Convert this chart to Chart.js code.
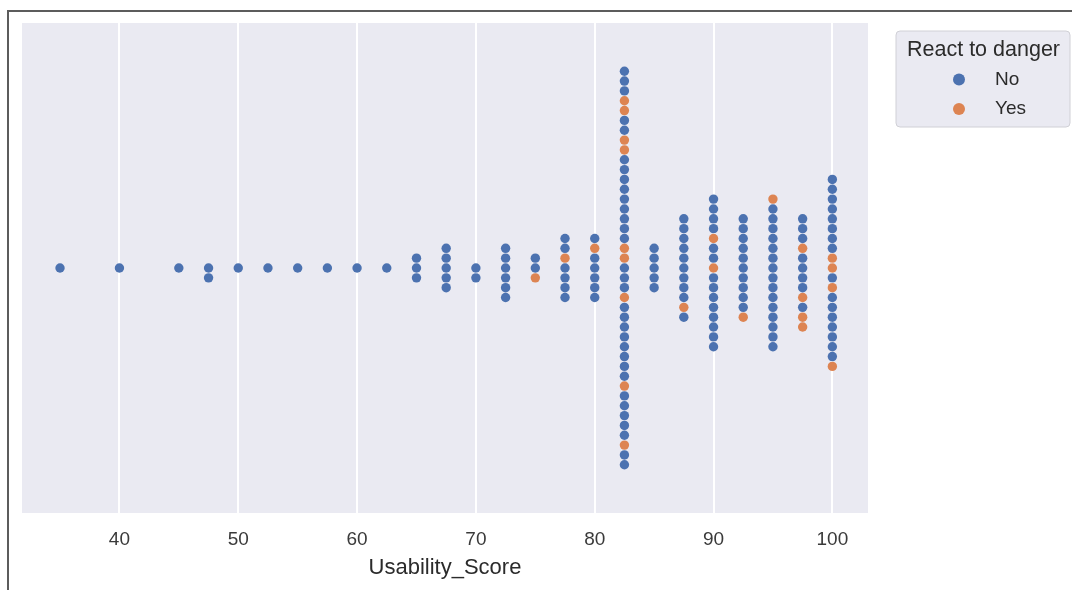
<!DOCTYPE html>
<html lang="en">
<head>
    <meta charset="UTF-8">
    <title>Usability Score swarm</title>
    <script src="https://cdn.jsdelivr.net/npm/chart.js"></script>
    <style>
        body { margin: 0; background: #fff; }
        #wrap { position: relative; width: 1072px; height: 590px; overflow: hidden; }
        #frame { position: absolute; left: 7px; top: 10px; width: 1080px; height: 600px;
                 border-top: 2px solid #5c5c5c; border-left: 2px solid #5c5c5c; }
        #swarm { position: absolute; left: 0; top: 0; }
    </style>
</head>
<body>
    <div id="wrap">
        <div id="frame"></div>
        <canvas id="swarm" width="1072" height="590"></canvas>
    </div>
    <script>
        // one column per score, dots listed top to bottom (N = No, Y = Yes)
        const scores = [35, 40, 45, 47.5, 50, 52.5, 55, 57.5, 60, 62.5, 65, 67.5, 70, 72.5, 75, 77.5, 80,
                        82.5, 85, 87.5, 90, 92.5, 95, 97.5, 100];
        const columns = [
            'N', 'N', 'N', 'NN', 'N', 'N', 'N', 'N', 'N', 'N',
            'NNN', 'NNNNN', 'NN', 'NNNNNN', 'NNY', 'NNYNNNN', 'NYNNNNN',
            'NNNYYNNYYNNNNNNNNNYYNNNYNNNNNNNNYNNNNNYNN',
            'NNNNN', 'NNNNNNNNNYN', 'NNNNYNNYNNNNNNNN', 'NNNNNNNNNNY',
            'YNNNNNNNNNNNNNNN', 'NNNYNNNNYNYY', 'NNNNNNNNYYNYNNNNNNNY'
        ];
        const xTicks = [40, 50, 60, 70, 80, 90, 100];
        const groups = ['No', 'Yes'];
        const colors = ['#4c72b0', '#dd8452'];

        // swarm layout: stack each column around the centre line
        const points = { N: [], Y: [] };
        scores.forEach((s, c) => {
            const col = columns[c];
            const start = -Math.floor((col.length - 1) / 2);
            for (let i = 0; i < col.length; i++) {
                points[col[i]].push({ x: s, y: start + i });
            }
        });

        const font = '"Liberation Sans", Arial, sans-serif';

        const bgPlugin = {
            id: 'bg',
            beforeDraw(chart) {
                const a = chart.chartArea, ctx = chart.ctx;
                ctx.save();
                ctx.fillStyle = '#eaeaf2';
                ctx.fillRect(a.left, a.top, a.right - a.left, a.bottom - a.top);
                ctx.restore();
            }
        };

        const legendPlugin = {
            id: 'swarmLegend',
            afterDraw(chart) {
                const ctx = chart.ctx;
                const x = 896, y = 31, w = 174, h = 96;
                ctx.save();
                ctx.beginPath();
                ctx.roundRect(x, y, w, h, 4);
                ctx.fillStyle = '#eaeaf2';
                ctx.fill();
                ctx.strokeStyle = '#d0d0d6';
                ctx.lineWidth = 1;
                ctx.stroke();
                ctx.fillStyle = '#2b2b2b';
                ctx.font = '21.5px ' + font;
                ctx.textAlign = 'center';
                ctx.textBaseline = 'middle';
                ctx.fillText('React to danger', 983.5, 50);
                ctx.font = '19px ' + font;
                ctx.textAlign = 'left';
                chart.data.datasets.forEach((ds, i) => {
                    const cy = 79.5 + i * 29.5;
                    ctx.beginPath();
                    ctx.arc(959, cy, 6, 0, Math.PI * 2);
                    ctx.fillStyle = ds.backgroundColor;
                    ctx.fill();
                    ctx.fillStyle = '#2b2b2b';
                    ctx.fillText(ds.label, 995, cy);
                });
                ctx.restore();
            }
        };

        new Chart(document.getElementById('swarm'), {
            type: 'scatter',
            data: {
                datasets: groups.map((g, i) => ({
                    label: g,
                    data: points[g[0]],
                    backgroundColor: colors[i],
                    borderWidth: 0,
                    pointRadius: 4.7
                }))
            },
            options: {
                responsive: false,
                animation: false,
                layout: { padding: { left: 22, top: 23, right: 204, bottom: 0 } },
                plugins: { legend: { display: false }, tooltip: { enabled: false } },
                scales: {
                    x: {
                        min: 31.8,
                        max: 103,
                        afterBuildTicks: s => { s.ticks = xTicks.map(v => ({ value: v })); },
                        afterFit: s => { s.height = 77; },
                        grid: { color: '#ffffff', lineWidth: 2, drawTicks: false },
                        border: { display: false },
                        ticks: { color: '#3a3a3a', font: { family: font, size: 19 }, padding: 15 },
                        title: {
                            display: true,
                            text: 'Usability_Score',
                            color: '#2b2b2b',
                            font: { family: font, size: 22 },
                            padding: { top: 0, bottom: 9 }
                        }
                    },
                    y: {
                        display: false,
                        reverse: true,
                        min: -24.9,
                        max: 24.9
                    }
                }
            },
            plugins: [bgPlugin, legendPlugin]
        });
    </script>
</body>
</html>
